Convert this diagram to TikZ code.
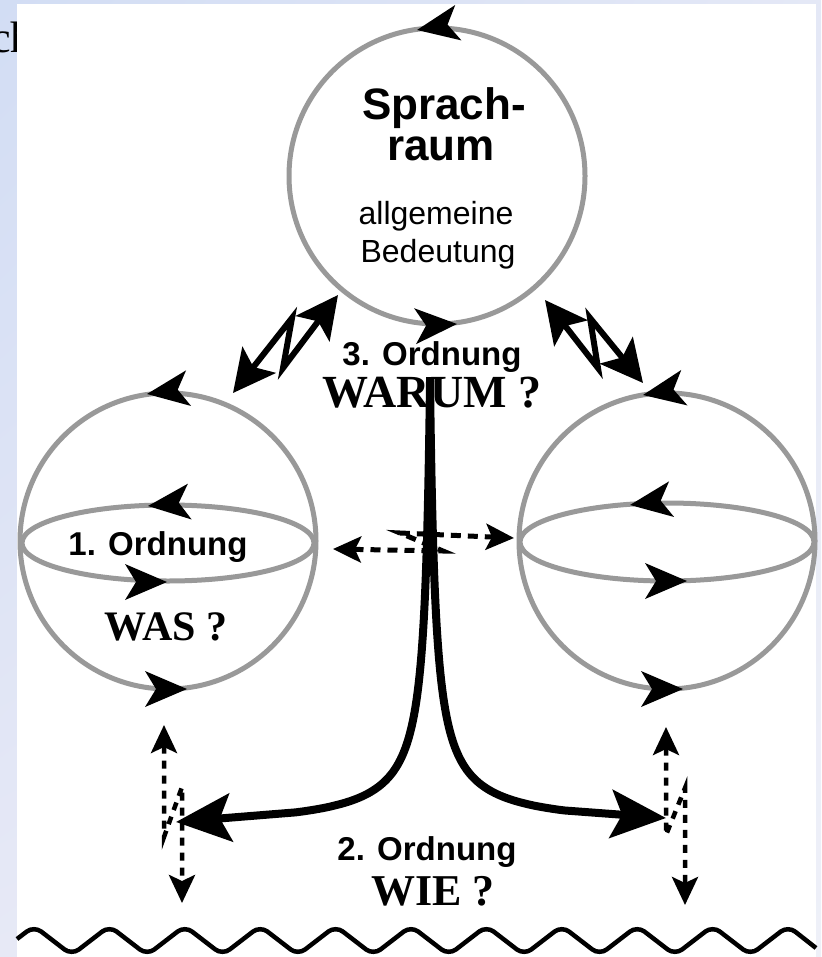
\documentclass[tikz,border=0pt]{standalone}
\usepackage{fontspec}
\setmainfont{Liberation Serif}
\newfontfamily\headfont{Liberation Sans}
\usetikzlibrary{arrows.meta,shadings}
\definecolor{ringgray}{HTML}{999999}
\definecolor{bgA}{HTML}{D2DDF4}
\definecolor{bgB}{HTML}{E4E8F6}
\definecolor{bgC}{HTML}{E7E9F6}
\definecolor{bgD}{HTML}{EEF0F8}
\begin{document}
\begin{tikzpicture}[x=1pt,y=-1pt,
  sphere/.style={circle, draw=ringgray, line width=5pt, minimum size=296pt, inner sep=0pt},
  ring/.style={draw=ringgray, line width=5pt},
  boldhead/.style={font=\headfont\bfseries\fontsize{44}{48}\selectfont, anchor=base, inner sep=0pt},
  plainhead/.style={font=\headfont\fontsize{32}{36}\selectfont, anchor=base, inner sep=0pt},
  ordlabel/.style={font=\headfont\bfseries\fontsize{33}{36}\selectfont, anchor=base, inner sep=0pt},
  question/.style={font=\bfseries\fontsize{46}{50}\selectfont, anchor=base, inner sep=0pt},
  bolt/.style={line width=6pt, {Stealth[length=42pt,width=42pt,inset=9pt]}-{Stealth[length=42pt,width=42pt,inset=9pt]}},
  dotlink/.style={line width=5pt, dash pattern=on 10pt off 7pt, {Stealth[length=28pt,width=26pt,inset=6pt]}-{Stealth[length=28pt,width=26pt,inset=6pt]}},
  branch/.style={line width=8pt, -{Stealth[length=55pt,width=48pt,inset=11pt]}}
]
\useasboundingbox (0,0) rectangle (821,957);
% slide background and sheet
\shade[upper left=bgA, upper right=bgB, lower left=bgC, lower right=bgD] (0,0) rectangle (821,957);
\node[anchor=base west, inner sep=0pt, font=\fontsize{44}{48}\selectfont] (title) at (-9,53) {ch};
\fill[white] (17,4) rectangle (816,957);

% the three spheres
\node[sphere] (space) at (437,176) {};
\node[sphere] (lsph) at (168,541) {};
\node[sphere] (rsph) at (667,541) {};
\draw[ring] (lsph.center) ++(0,2) ellipse [x radius=146, y radius=38];
\draw[ring] (rsph.center) ++(0,1) ellipse [x radius=147, y radius=39];

% direction marks on the rings
\foreach \x/\y/\a in {417/30/190, 457/324/3, 147/394/188, 148/506/186, 167/582/0,
                      187/689/0, 643/395/190, 630/505/188, 687/581/0, 683/689/0}
  \fill[shift={(\x,\y)}, rotate=\a] (0,0) -- (-42,18) -- (-31,0) -- (-42,-18) -- cycle;

% labels
\node[boldhead] (t1) at (444,120) {Sprach-};
\node[boldhead] (t2) at (441,161) {raum};
\node[plainhead] (t3) at (436,225) {allgemeine};
\node[plainhead] (t4) at (438,262) {Bedeutung};
\node[ordlabel] (o3) at (432,365) {3. Ordnung};
\node[question] (why) at (432,407) {WARUM ?};
\node[ordlabel] (o1) at (158,555) {1. Ordnung};
\node[question, font=\bfseries\fontsize{42}{46}\selectfont] (what) at (166,640) {WAS ?};
\node[ordlabel] (o2) at (427,860) {2. Ordnung};
\node[question, font=\bfseries\fontsize{44}{48}\selectfont] (how) at (433,905) {WIE ?};

% lightning links between the spaces
\coordinate (bl1) at (233,393);
\coordinate (bl2) at (338,295);
\draw[bolt] (bl1) -- (292,318) -- (283,368) -- (bl2);
\coordinate (br1) at (643,383);
\coordinate (br2) at (545,300);
\draw[bolt] (br1) -- (590,318) -- (598,368) -- (br2);

% dashed link between the lower spheres
\coordinate (dl) at (333,549);
\coordinate (dr) at (514,538);
\draw[dotlink] (dl) -- (443,551) -- (400,533) -- (dr);

% dashed vertical links
\coordinate (vl1) at (164,725);
\coordinate (vl2) at (182,903);
\draw[dotlink, line width=4.5pt, dash pattern=on 8pt off 7pt] (vl1) -- (164,837) -- (182,787) -- (vl2);
\coordinate (vr1) at (666,727);
\coordinate (vr2) at (685,905);
\draw[dotlink, line width=4.5pt, dash pattern=on 8pt off 7pt] (vr1) -- (666,835) -- (685,788) -- (vr2);

% stem and its two branches (hyperbolic spread)
\coordinate (stem) at (430,377);
\coordinate (fork) at (430,381);
\coordinate (lend) at (176,822);
\coordinate (rend) at (666,818);
\draw[branch] (stem) -- (fork)
  -- plot[domain=0:3.24, samples=90, variable=\t, smooth]
     ({430-5.5*(exp(\t)-1)}, {830-449*exp(-\t)}) -- (lend);
\draw[branch] (fork)
  -- plot[domain=0:3.24, samples=90, variable=\t, smooth]
     ({430+5.5*(exp(\t)-1)}, {828-447*exp(-\t)}) -- (rend);

% ground line
\draw[line width=4.5pt, rounded corners=9pt] (17,939)
  \foreach \k in {0,...,9} { -- ({34+75.4*\k},926) -- ({71.7+75.4*\k},955) }
  -- (788,926) -- (816,948);
\end{tikzpicture}
\end{document}
